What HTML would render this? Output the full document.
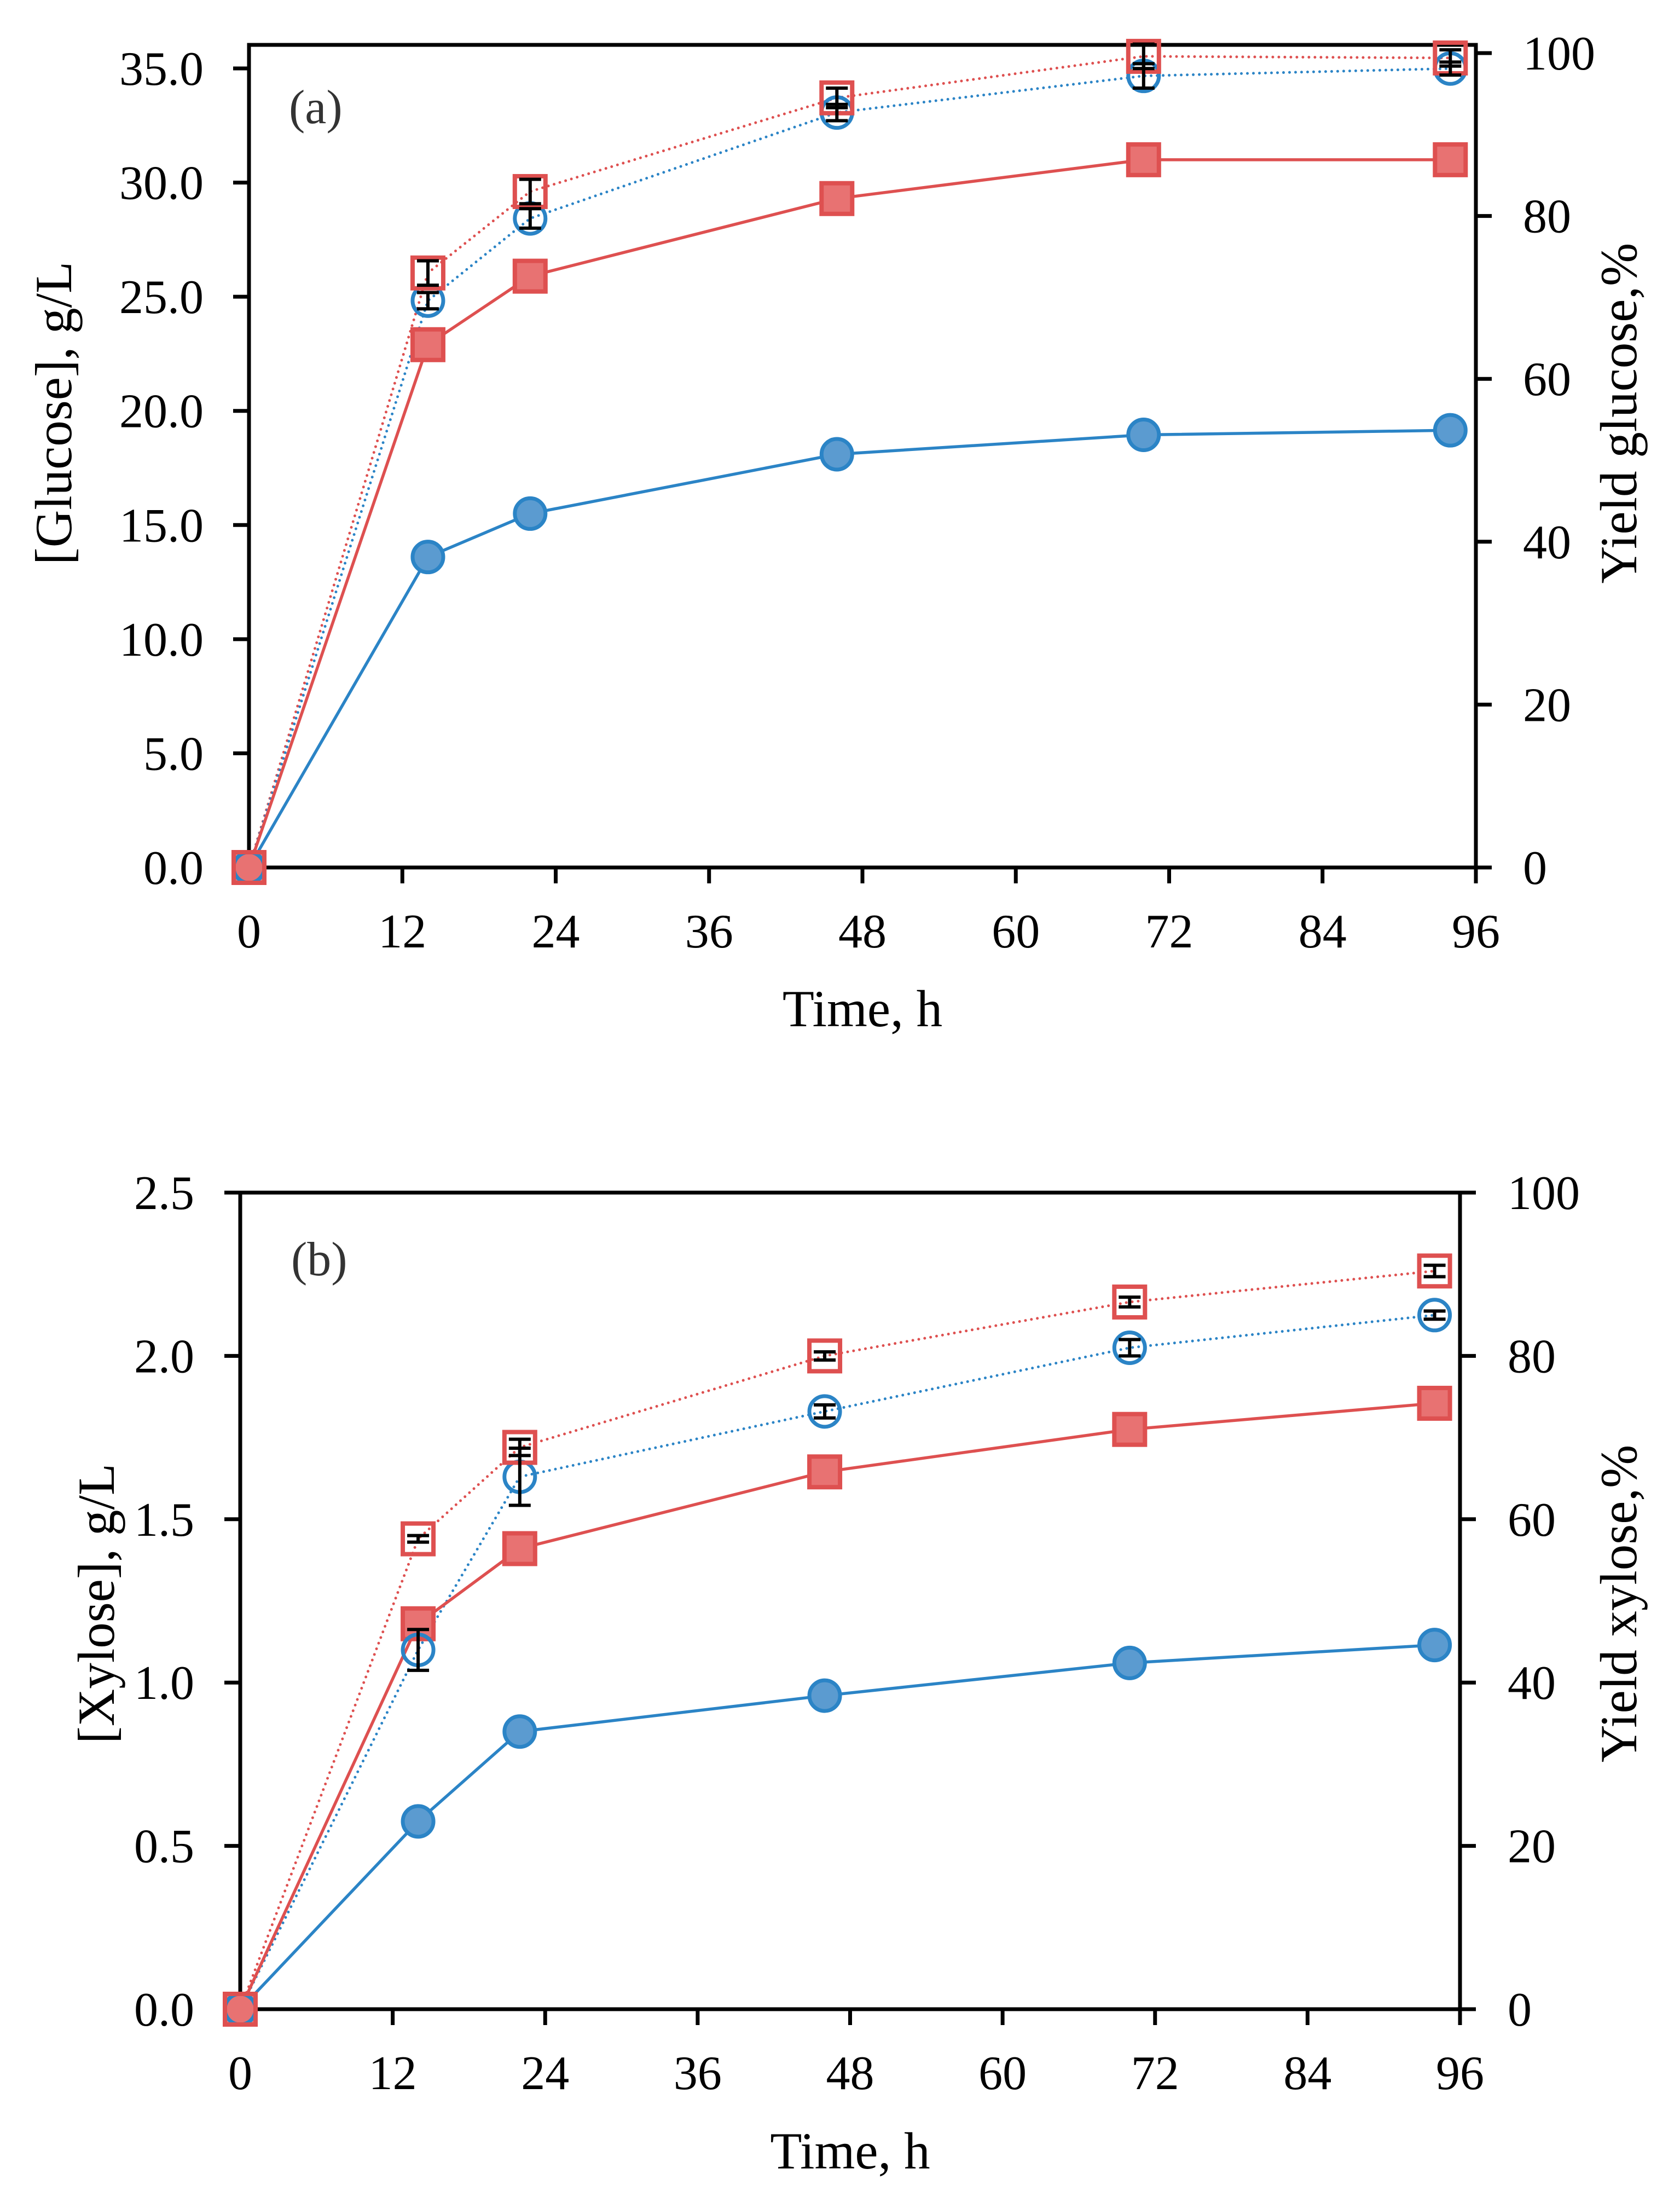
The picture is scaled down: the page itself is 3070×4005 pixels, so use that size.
<!DOCTYPE html>
<html><head><meta charset="utf-8"><style>
html,body{margin:0;padding:0;background:#fff}
svg{display:block}
text{font-family:"Liberation Serif",serif;fill:#000}
</style></head><body>
<svg id="fig" width="3070" height="4005" viewBox="0 0 3070 4005" xmlns="http://www.w3.org/2000/svg"></svg>
<script>
const times = [0, 14, 22, 46, 70, 94];
const xTicks = [0, 12, 24, 36, 48, 60, 72, 84, 96];
// Panel a
const glucoseConcA = [0, 13.6, 15.5, 18.1, 18.95, 19.15];
const glucoseConcB = [0, 22.9, 25.9, 29.3, 31.0, 31.0];
const glucoseYieldA = [0, 69.6, 79.7, 92.7, 97.2, 98.1];
const glucoseYieldB = [0, 73.0, 83.0, 94.5, 99.6, 99.4];
const glucoseYieldAErr = [0, 1.0, 1.2, 1.0, 1.5, 0.8];
const glucoseYieldBErr = [0, 1.5, 1.5, 1.2, 1.5, 1.0];
const glucoseLeftTicks = ["0.0","5.0","10.0","15.0","20.0","25.0","30.0","35.0"];
const glucoseRightTicks = [0, 20, 40, 60, 80, 100];
// Panel b
const xyloseConcA = [0, 0.575, 0.85, 0.96, 1.06, 1.115];
const xyloseConcB = [0, 1.18, 1.41, 1.645, 1.775, 1.855];
const xyloseYieldA = [0, 44.0, 65.2, 73.2, 81.0, 85.0];
const xyloseYieldB = [0, 57.6, 68.8, 80.0, 86.6, 90.4];
const xyloseYieldAErr = [0, 2.5, 3.5, 0.8, 1.0, 0.5];
const xyloseYieldBErr = [0, 0.4, 1.0, 0.5, 0.6, 0.7];
const xyloseLeftTicks = ["0.0","0.5","1.0","1.5","2.0","2.5"];
const xyloseRightTicks = [0, 20, 40, 60, 80, 100];

const NS = "http://www.w3.org/2000/svg";
const svg = document.getElementById("fig");
function el(tag, attrs, parent, txt){
  const e = document.createElementNS(NS, tag);
  for (const k in attrs) e.setAttribute(k, attrs[k]);
  if (txt !== undefined) e.textContent = txt;
  (parent || svg).appendChild(e);
  return e;
}
const BLUE = "#2b84c6", BLUEF = "#5b9bd0", RED = "#de5050", REDF = "#e87272";

function panel(cfg){
  const g = el("g", {});
  
  
  const L = cfg.L, R = cfg.R, T = cfg.T, B = cfg.B;
  const xs = t => L + (R - L) * t / 96;
  const yl = v => B - (B - cfg.yTopL) * v / cfg.lmax;
  const yr = v => B - (B - cfg.yTopR) * v / 100;
  // frame
  const fr = el("rect", {x:L, y:T, width:R-L, height:B-T, fill:"none", stroke:"#000", "stroke-width":7}, g);
  
  
  // x ticks
  xTicks.forEach(t => {
    const tk = el("line", {x1:xs(t), x2:xs(t), y1:B, y2:B+29, stroke:"#000", "stroke-width":7}, g);
    
    
    const lb = el("text", {x:xs(t), y:B+146, "text-anchor":"middle", "font-size":88}, g, String(t));
    
    
  });
  cfg.leftTicks.forEach((s, i) => {
    const v = parseFloat(s);
    const tk = el("line", {x1:L-29, x2:L, y1:yl(v), y2:yl(v), stroke:"#000", "stroke-width":7}, g);
    
    
    const lb = el("text", {x:cfg.leftLabelX, y:yl(v)+30, "text-anchor":"end", "font-size":88}, g, s);
    
    
  });
  cfg.rightTicks.forEach(v => {
    const tk = el("line", {x1:R, x2:R+29, y1:yr(v), y2:yr(v), stroke:"#000", "stroke-width":7}, g);
    
    
    const lb = el("text", {x:cfg.rightLabelX, y:yr(v)+30, "text-anchor":"start", "font-size":88}, g, String(v));
    
    
  });
  const xt = el("text", {x:(L+R)/2, y:cfg.xTitleY, "text-anchor":"middle", "font-size":95}, g, "Time, h");
  
  
  const lt = el("text", {x:0, y:0, "text-anchor":"middle", "font-size":95, transform:`translate(${cfg.leftTitleX},${cfg.titleY}) rotate(-90)`}, g, cfg.leftTitle);
  
  
  const rt = el("text", {x:0, y:0, "text-anchor":"middle", "font-size":95, transform:`translate(${cfg.rightTitleX},${cfg.titleY}) rotate(-90)`}, g, cfg.rightTitle);
  
  
  const pl = el("text", {x:cfg.plX, y:cfg.plY, "font-size":88, style:"fill:#333"}, g, cfg.panelLabel);
  
  

  function series(vals, yf, color, dashed, name){
    const pts = vals.map((v,i) => xs(times[i]) + "," + yf(v)).join(" ");
    const p = el("polyline", {points:pts, fill:"none", stroke:color, "stroke-width": dashed?5:5.5,
      "stroke-dasharray": dashed?"0 11":"none", "stroke-linecap": dashed?"round":"butt"}, g);
    
    
  }
  function errs(vals, e, yf, color, name){
    vals.forEach((v,i) => {
      if (!e[i]) return;
      const x = xs(times[i]), y1 = yf(v - e[i]), y2 = yf(v + e[i]);
      const eb = el("path", {d:`M${x-20},${y1}H${x+20}M${x},${y1}V${y2}M${x-20},${y2}H${x+20}`, stroke:color, "stroke-width":6, fill:"none"}, g);
      
      
    });
  }
  function circles(vals, yf, filled, name){
    vals.forEach((v,i) => {
      const c = el("circle", {cx:xs(times[i]), cy:yf(v), r:28, fill: filled?BLUEF:"none", stroke:BLUE, "stroke-width":7}, g);
      
      
    });
  }
  function squares(vals, yf, filled, name){
    vals.forEach((v,i) => {
      const s = el("rect", {x:xs(times[i])-28, y:yf(v)-28, width:56, height:56, fill: filled?REDF:"none", stroke:RED, "stroke-width":8}, g);
      
      
    });
  }
  series(cfg.yB, yr, RED, true, 'yield-red');
  series(cfg.yA, yr, BLUE, true, 'yield-blue');
  series(cfg.cB, yl, RED, false, 'conc-red');
  series(cfg.cA, yl, BLUE, false, 'conc-blue');
  circles(cfg.cA, yl, true, 'conc-blue');
  squares(cfg.cB, yl, true, 'conc-red');
  circles(cfg.yA, yr, false, 'yield-blue');
  squares(cfg.yB, yr, false, 'yield-red');
  errs(cfg.yA, cfg.yAe, yr, "#000", 'yield-blue');
  errs(cfg.yB, cfg.yBe, yr, "#000", 'yield-red');
}

panel({name:"panel-a-glucose", L:455, R:2697, T:82, B:1585, yTopL:125, lmax:35, yTopR:97,
  leftTicks:glucoseLeftTicks, rightTicks:glucoseRightTicks, leftLabelX:372, rightLabelX:2783,
  xTitleY:1875, leftTitleX:130, rightTitleX:2990, titleY:755,
  leftTitle:"[Glucose], g/L", rightTitle:"Yield glucose,%", panelLabel:"(a)", plX:528, plY:225,
  cA:glucoseConcA, cB:glucoseConcB, yA:glucoseYieldA, yB:glucoseYieldB, yAe:glucoseYieldAErr, yBe:glucoseYieldBErr});

panel({name:"panel-b-xylose", L:439, R:2668, T:2179, B:3671, yTopL:2179, lmax:2.5, yTopR:2179,
  leftTicks:xyloseLeftTicks, rightTicks:xyloseRightTicks, leftLabelX:355, rightLabelX:2755,
  xTitleY:3962, leftTitleX:208, rightTitleX:2990, titleY:2930,
  leftTitle:"[Xylose], g/L", rightTitle:"Yield xylose,%", panelLabel:"(b)", plX:532, plY:2330,
  cA:xyloseConcA, cB:xyloseConcB, yA:xyloseYieldA, yB:xyloseYieldB, yAe:xyloseYieldAErr, yBe:xyloseYieldBErr});
</script>
</body></html>
